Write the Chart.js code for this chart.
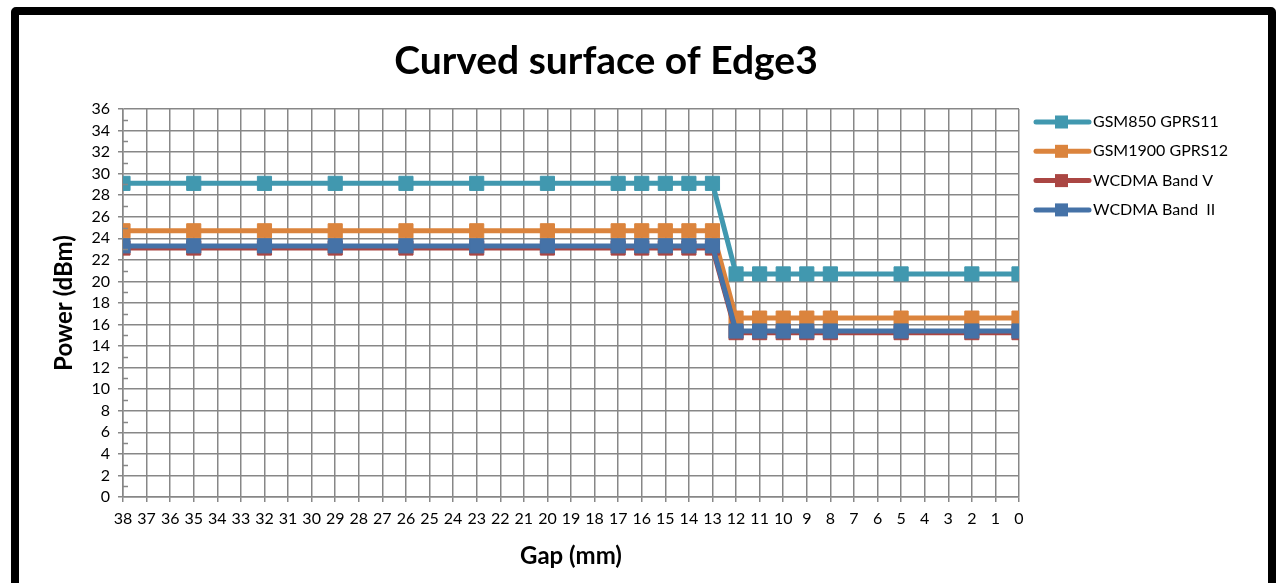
<!DOCTYPE html>
<html>
<head>
<meta charset="utf-8">
<script src="https://cdn.jsdelivr.net/npm/chart.js@4/dist/chart.umd.min.js"></script>
<style>
  html, body { margin:0; padding:0; background:#fff; overflow:hidden; }
  #frame {
    position:absolute; left:11px; top:7px; width:1265px; height:620px;
    box-sizing:border-box; border:8px solid #000; border-radius:5px; background:#fff;
  }
  #chart { position:absolute; left:0; top:0; }
</style>
</head>
<body>
<div id="frame"></div>
<canvas id="chart" width="1276" height="583"></canvas>
<script>
// Gap (mm) (38 -> 0)
const gaps = [38, 35, 32, 29, 26, 23, 20, 17, 16, 15, 14, 13, 12, 11, 10, 9, 8, 5, 2, 0];

// Power (dBm) per series
const gsm850  = [29.1, 29.1, 29.1, 29.1, 29.1, 29.1, 29.1, 29.1, 29.1, 29.1, 29.1, 29.1, 20.7, 20.7, 20.7, 20.7, 20.7, 20.7, 20.7, 20.7];
const gsm1900 = [24.7, 24.7, 24.7, 24.7, 24.7, 24.7, 24.7, 24.7, 24.7, 24.7, 24.7, 24.7, 16.6, 16.6, 16.6, 16.6, 16.6, 16.6, 16.6, 16.6];
const wcdmaV  = [23.1, 23.1, 23.1, 23.1, 23.1, 23.1, 23.1, 23.1, 23.1, 23.1, 23.1, 23.1, 15.25, 15.25, 15.25, 15.25, 15.25, 15.25, 15.25, 15.25];
const wcdmaII = [23.3, 23.3, 23.3, 23.3, 23.3, 23.3, 23.3, 23.3, 23.3, 23.3, 23.3, 23.3, 15.4, 15.4, 15.4, 15.4, 15.4, 15.4, 15.4, 15.4];

const seriesNames  = ["GSM850 GPRS11", "GSM1900 GPRS12", "WCDMA Band V", "WCDMA Band  II"];
const seriesColors = ["#4198AF", "#DB843D", "#AA4643", "#4572A7"];
const seriesValues = [gsm850, gsm1900, wcdmaV, wcdmaII];

const chartTitle = "Curved surface of Edge3";

const FONT = "Lato, 'Open Sans', sans-serif";
const GRID = "#878787";

function pts(vals){ return gaps.map((g, i) => ({ x: g, y: vals[i] })); }

const datasets = seriesValues.map((vals, i) => ({
  label: seriesNames[i],
  data: pts(vals),
  borderColor: seriesColors[i],
  backgroundColor: seriesColors[i],
  borderWidth: 5,
  pointStyle: "rect",
  pointRadius: 10,
  pointBorderWidth: 1,
  pointHoverRadius: 10,
  tension: 0,
  order: seriesValues.length - 1 - i   // last series drawn on top
}));

// small inside ticks at odd y values
const minorTicks = {
  id: "minorTicks",
  afterDraw(chart){
    const y = chart.scales.y, x = chart.scales.x, ctx = chart.ctx;
    ctx.save();
    ctx.strokeStyle = GRID;
    ctx.lineWidth = 1.5;
    for (let v = 1; v < 36; v += 2) {
      const py = Math.round(y.getPixelForValue(v)) + 0.5;
      ctx.beginPath();
      ctx.moveTo(x.left, py);
      ctx.lineTo(x.left + 5, py);
      ctx.stroke();
    }
    ctx.restore();
  }
};

// title centred over the whole frame, not just the plot box
const topTitle = {
  id: "topTitle",
  afterDraw(chart){
    const ctx = chart.ctx;
    ctx.save();
    ctx.fillStyle = "#000";
    ctx.font = "bold 39px " + FONT;
    ctx.textAlign = "center";
    ctx.textBaseline = "middle";
    ctx.fillText(chartTitle, 606, 61);
    ctx.restore();
  }
};

// legend at the right, line + square marker
const sideLegend = {
  id: "sideLegend",
  afterDraw(chart){
    const ctx = chart.ctx;
    ctx.save();
    chart.data.datasets.forEach((ds, i) => {
      const cy = 122 + i * 29.3;
      ctx.strokeStyle = ds.borderColor;
      ctx.lineWidth = 5;
      ctx.lineCap = "round";
      ctx.beginPath();
      ctx.moveTo(1036, cy);
      ctx.lineTo(1089, cy);
      ctx.stroke();
      ctx.fillStyle = ds.borderColor;
      ctx.fillRect(1055, cy - 6.5, 13, 13);
      ctx.fillStyle = "#000";
      ctx.font = "16px " + FONT;
      ctx.textBaseline = "middle";
      ctx.textAlign = "left";
      ctx.fillText(ds.label, 1093, cy);
    });
    ctx.restore();
  }
};

new Chart(document.getElementById("chart"), {
  type: "line",
  data: { datasets },
  options: {
    responsive: false,
    animation: false,
    layout: { padding: { left: 20, right: 257, top: 109, bottom: 8 } },
    plugins: {
      legend: { display: false },
      tooltip: { enabled: false },
      title: { display: false }
    },
    scales: {
      x: {
        type: "linear",
        reverse: true,
        min: 0, max: 38,
        afterFit: s => { s.height = 78; },
        ticks: {
          stepSize: 1, autoSkip: false, maxRotation: 0,
          color: "#000", padding: 7,
          font: { family: FONT, size: 16 }
        },
        grid: { color: GRID, lineWidth: 1.5, tickLength: 5 },
        border: { color: GRID, width: 1.5 },
        title: {
          display: true, text: "Gap (mm)", color: "#000",
          font: { family: FONT, size: 24, weight: "bold" },
          padding: { top: 0, bottom: 4 }
        }
      },
      y: {
        min: 0, max: 36,
        afterFit: s => { s.width = 103; },
        ticks: {
          stepSize: 2, autoSkip: false, color: "#000", padding: 8,
          font: { family: FONT, size: 16 }
        },
        grid: { color: GRID, lineWidth: 1.5, tickLength: 5 },
        border: { color: GRID, width: 1.5 },
        title: {
          display: true, text: "Power (dBm)", color: "#000",
          font: { family: FONT, size: 24, weight: "bold" },
          padding: { top: 30, bottom: 0 }
        }
      }
    }
  },
  plugins: [minorTicks, topTitle, sideLegend]
});
</script>
</body>
</html>
